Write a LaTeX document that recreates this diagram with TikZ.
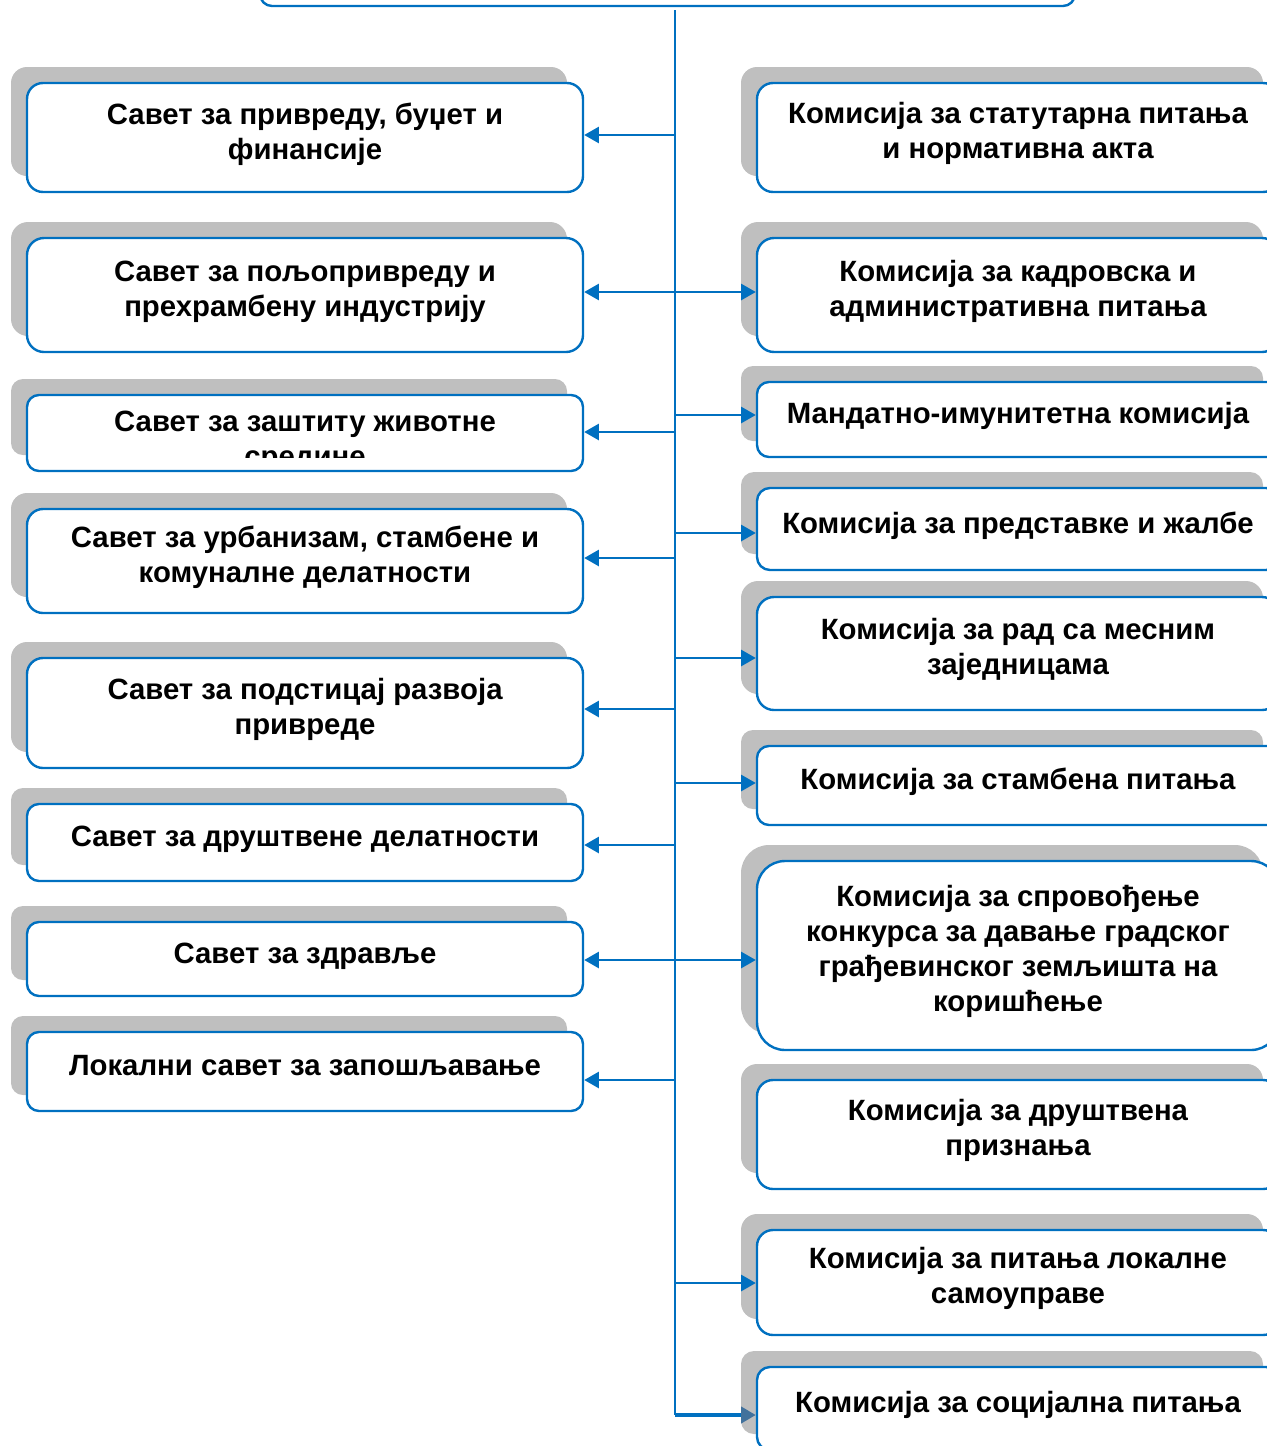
\documentclass[tikz,border=0pt]{standalone}
\usepackage{fontspec}
\setmainfont{Liberation Sans}
\usetikzlibrary{shadows,arrows.meta,calc}
\definecolor{bblue}{HTML}{0070C0}
\definecolor{shgray}{HTML}{BFBFBF}
\definecolor{tipgray}{HTML}{41719C}
\newdimen\pxu \pxu=0.75pt
\tikzset{
  orgnode/.style={draw=bblue, line width=1.8pt, fill=white, inner sep=0pt,
    align=center, font=\fontsize{22}{26.25}\selectfont\bfseries,
    execute at begin node={\rule{0pt}{16pt}},
    execute at end node={\rule[-10pt]{0pt}{10pt}},
    drop shadow={shadow xshift=-12pt, shadow yshift=12pt, fill=shgray, opacity=1}},
  txtnode/.style={inner sep=0pt, align=center, font=\fontsize{22}{26.25}\selectfont\bfseries},
  conn/.style={draw=bblue, line width=1.9pt},
  tip/.style={-{Triangle[length=11pt,width=12pt]}},
  dtip/.style={{Triangle[length=11pt,width=12pt]}-{Triangle[length=11pt,width=12pt]}},
}
% name, x1, y1, x2, y2, radius(px), text
\newcommand\orgbox[7]{%
  \node[orgnode, rounded corners=#6\pxu, minimum width={(#4-#2)*\pxu},
        minimum height={(#5-#3)*\pxu}] (#1) at ({(#2+#4)/2},{(#3+#5)/2}) {#7};}
\begin{document}
\begin{tikzpicture}[x=0.75pt,y=-0.75pt]
\useasboundingbox (0,0) rectangle (1267,1446);
\clip (0,0) rectangle (1267,1446);

% top box (cut off by the picture edge)
\orgbox{top}{260}{-70}{1075}{6}{12}{}

% left column
\orgbox{L1}{27}{83}{583}{192}{16}{Савет за привреду, буџет и\\финансије}
\orgbox{L2}{27}{238}{583}{352}{17}{Савет за пољопривреду и\\прехрамбену индустрију}
\orgbox{L3}{27}{395}{583}{471}{12}{}
\begin{scope}
  \clip (27,395) rectangle (583,457);
  \node[txtnode] (L3t) at (305,442) {Савет за заштиту животне\\средине};
\end{scope}
\orgbox{L4}{27}{509}{583}{613}{16}{Савет за урбанизам, стамбене и\\комуналне делатности}
\orgbox{L5}{27}{658}{583}{768}{16}{Савет за подстицај развоја\\привреде}
\orgbox{L6}{27}{804}{583}{881}{12}{Савет за друштвене делатности}
\orgbox{L7}{27}{922}{583}{996}{12}{Савет за здравље}
\orgbox{L8}{27}{1032}{583}{1111}{12}{Локални савет за запошљавање}

% right column
\orgbox{R1}{757}{83}{1279}{192}{16}{Комисија за статутарна питања\\и нормативна акта}
\orgbox{R2}{757}{238}{1279}{352}{17}{Комисија за кадровска и\\административна питања}
\orgbox{R3}{757}{382}{1279}{457}{12}{Мандатно-имунитетна комисија}
\orgbox{R4}{757}{488}{1279}{570}{13}{Комисија за представке и жалбе}
\orgbox{R5}{757}{597}{1279}{710}{17}{Комисија за рад са месним\\заједницама}
\orgbox{R6}{757}{746}{1279}{825}{12}{Комисија за стамбена питања}
\orgbox{R7}{757}{861}{1279}{1050}{28}{Комисија за спровођење\\конкурса за давање градског\\грађевинског земљишта на\\коришћење}
\orgbox{R8}{757}{1080}{1279}{1189}{16}{Комисија за друштвена\\признања}
\orgbox{R9}{757}{1230}{1279}{1335}{16}{Комисија за питања локалне\\самоуправе}
\orgbox{R10}{757}{1367}{1279}{1450}{13}{Комисија за социјална питања}

% trunk
\coordinate (t0) at (675,10);
\coordinate (t1) at (675,1415);
\draw[conn] (t0) -- (t1);

% left branches (name / vertical offset in px)
\foreach \n/\d in {L1/-2.5,L3/-1,L4/-3,L5/-4,L6/2.5,L8/8.5}{
  \draw[conn,tip] ($(t0 |- \n.east)+(0,\d)$) -- ($(\n.east)+(0,\d)$);
}
% double-headed branches
\draw[conn,dtip] ($(L2.east)+(0,-3)$) -- ($(L2.east -| R2.west)+(0,-3)$);
\draw[conn,dtip] ($(L7.east)+(0,1)$) -- ($(L7.east -| R7.west)+(0,1)$);
% right branches
\foreach \n/\d in {R3/-4.5,R4/4,R5/4.5,R6/-2.5,R9/0.5}{
  \draw[conn,tip] ($(t0 |- \n.west)+(0,\d)$) -- ($(\n.west)+(0,\d)$);
}
\draw[draw=bblue, line width=3pt, -{Triangle[length=11pt,width=12pt,color=tipgray,fill=tipgray]}] (t1) -- (t1 -| R10.west);
\end{tikzpicture}
\end{document}
